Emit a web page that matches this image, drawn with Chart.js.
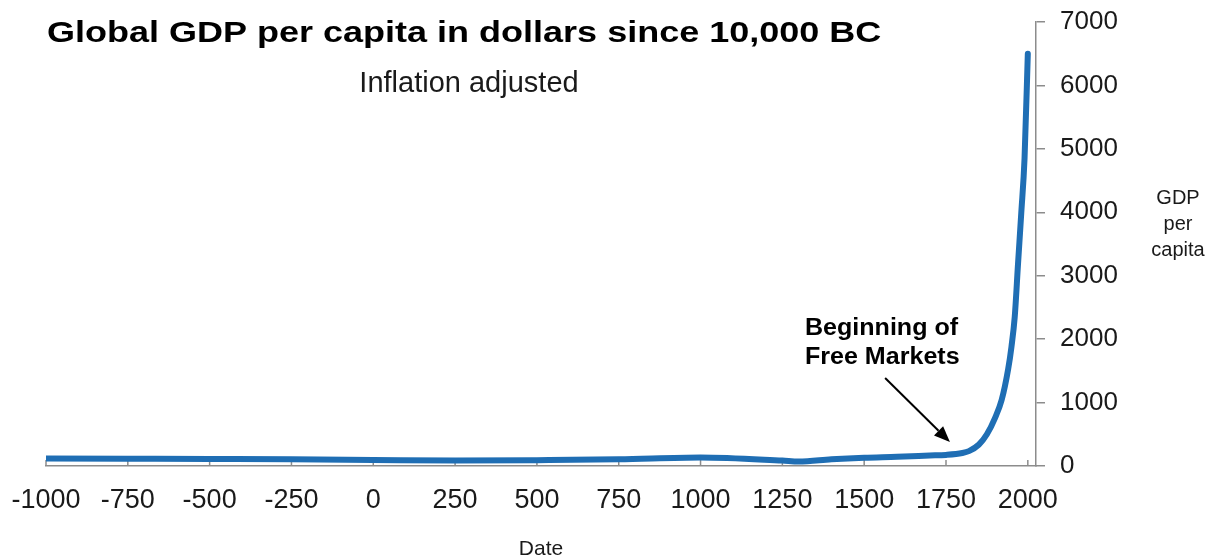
<!DOCTYPE html>
<html><head><meta charset="utf-8">
<script src="https://cdn.jsdelivr.net/npm/chart.js@4.4.1/dist/chart.umd.min.js"></script>
<style>html,body{margin:0;padding:0;background:#fff;} canvas{display:block;}</style>
</head><body>
<canvas id="c" width="1219" height="558"></canvas>
<script>
// ---- data ----
const years = [-1000,-750,-500,-250,0,250,500,750,1000,1250,1300,1400,1500,1600,1700,1750,1800,1820,1850,1875,1900,1920,1940,1950,1960,1970,1980,1990,2000];
const gdpPerCapita = [120,115,110,105,95,85,92,105,135,85,70,105,130,145,165,175,205,235,335,500,760,1040,1530,1880,2350,3180,3990,4850,6500];
const xTickValues = [-1000,-750,-500,-250,0,250,500,750,1000,1250,1500,1750,2000];
const yTickValues = [0,1000,2000,3000,4000,5000,6000,7000];
const titleText = 'Global GDP per capita in dollars since 10,000 BC';
const subtitleText = 'Inflation adjusted';
const xAxisLabel = 'Date';
const yAxisLabelLines = ['GDP','per','capita'];
const annotationLines = ['Beginning of','Free Markets'];
// annotation anchors in data space (year, value)
const annotationText = {x:1319, y:[2066,1608]};
const arrowFrom = {x:1564, y:1388};
const arrowTo = {x:1762, y:378};

const FONT = '"Liberation Sans", Arial, Helvetica, sans-serif';
const AXIS_COLOR = '#8c8c8c';
const TEXT_COLOR = '#1a1a1a';

function drawText(ctx, text, x, y, font, align, sx, color) {
  ctx.save();
  ctx.font = font;
  ctx.fillStyle = color || TEXT_COLOR;
  ctx.textAlign = align;
  ctx.textBaseline = 'alphabetic';
  ctx.translate(x, y);
  ctx.scale(sx, 1);
  ctx.fillText(text, 0, 0);
  ctx.restore();
}

const decor = {
  id: 'decor',
  beforeDatasetsDraw(chart) {
    const ctx = chart.ctx, xs = chart.scales.x, ca = chart.chartArea;
    ctx.save();
    ctx.strokeStyle = AXIS_COLOR;
    ctx.lineWidth = 1.5;
    xTickValues.forEach(v => {
      const px = xs.getPixelForValue(v);
      ctx.beginPath();
      ctx.moveTo(px, ca.bottom);
      ctx.lineTo(px, ca.bottom - 6);
      ctx.stroke();
    });
    ctx.restore();
  },
  afterDraw(chart) {
    const ctx = chart.ctx, xs = chart.scales.x, ys = chart.scales.y, ca = chart.chartArea;
    drawText(ctx, titleText, 47, 42, 'bold 30px ' + FONT, 'left', 1.2, '#000');
    drawText(ctx, subtitleText, 469, 92, '29px ' + FONT, 'center', 1, TEXT_COLOR);
    drawText(ctx, xAxisLabel, (ca.left + ca.right) / 2, 555, '21px ' + FONT, 'center', 1, TEXT_COLOR);
    yAxisLabelLines.forEach((t, i) => {
      drawText(ctx, t, 1178, 204 + i * 26, '20px ' + FONT, 'center', 1, TEXT_COLOR);
    });
    const tx = xs.getPixelForValue(annotationText.x);
    annotationLines.forEach((t, i) => {
      drawText(ctx, t, tx, ys.getPixelForValue(annotationText.y[i]), 'bold 23px ' + FONT, 'left', 1.09, '#000');
    });
    const x1 = xs.getPixelForValue(arrowFrom.x), y1 = ys.getPixelForValue(arrowFrom.y);
    const x2 = xs.getPixelForValue(arrowTo.x), y2 = ys.getPixelForValue(arrowTo.y);
    const ang = Math.atan2(y2 - y1, x2 - x1);
    const headLen = 16, headHalf = 6.5;
    const bx = x2 - headLen * Math.cos(ang), by = y2 - headLen * Math.sin(ang);
    ctx.save();
    ctx.strokeStyle = '#000';
    ctx.fillStyle = '#000';
    ctx.lineWidth = 2;
    ctx.beginPath();
    ctx.moveTo(x1, y1);
    ctx.lineTo(bx, by);
    ctx.stroke();
    ctx.beginPath();
    ctx.moveTo(x2, y2);
    ctx.lineTo(bx + headHalf * Math.sin(ang), by - headHalf * Math.cos(ang));
    ctx.lineTo(bx - headHalf * Math.sin(ang), by + headHalf * Math.cos(ang));
    ctx.closePath();
    ctx.fill();
    ctx.restore();
  }
};

new Chart(document.getElementById('c'), {
  type: 'line',
  data: {
    datasets: [{
      data: years.map((y, i) => ({x: y, y: gdpPerCapita[i]})),
      borderColor: '#1f6eb4',
      borderWidth: 6,
      pointRadius: 0,
      cubicInterpolationMode: 'monotone',
      borderCapStyle: 'round',
      borderJoinStyle: 'round',
      fill: false
    }]
  },
  options: {
    responsive: false,
    animation: false,
    devicePixelRatio: 1,
    layout: {padding: {left: 46, top: 22, right: 0, bottom: 0}},
    plugins: {legend: {display: false}, tooltip: {enabled: false}, title: {display: false}},
    scales: {
      x: {
        type: 'linear',
        min: -1000,
        max: 2025,
        afterBuildTicks(scale) { scale.ticks = xTickValues.map(v => ({value: v})); },
        afterFit(scale) {
          scale.height = 92;
          scale.paddingLeft = 0; scale.paddingRight = 0; scale.paddingTop = 0; scale.paddingBottom = 0;
        },
        grid: {display: true, drawOnChartArea: false, drawTicks: false},
        border: {display: true, color: AXIS_COLOR, width: 1.5},
        ticks: {
          padding: 18,
          maxRotation: 0,
          autoSkip: false,
          color: '#1a1a1a',
          font: {family: FONT, size: 27},
          callback: v => String(v)
        }
      },
      y: {
        position: 'right',
        min: 0,
        max: 7000,
        afterBuildTicks(scale) { scale.ticks = yTickValues.map(v => ({value: v})); },
        afterFit(scale) {
          scale.width = 183;
          scale.paddingLeft = 0; scale.paddingRight = 0; scale.paddingTop = 0; scale.paddingBottom = 0;
        },
        grid: {display: true, drawOnChartArea: false, drawTicks: true, tickLength: 9, color: AXIS_COLOR, lineWidth: 1.5},
        border: {display: true, color: AXIS_COLOR, width: 1.5},
        ticks: {
          padding: 15,
          color: '#1a1a1a',
          font: {family: FONT, size: 26},
          callback: v => String(v)
        }
      }
    }
  },
  plugins: [decor]
});
</script>
</body></html>
